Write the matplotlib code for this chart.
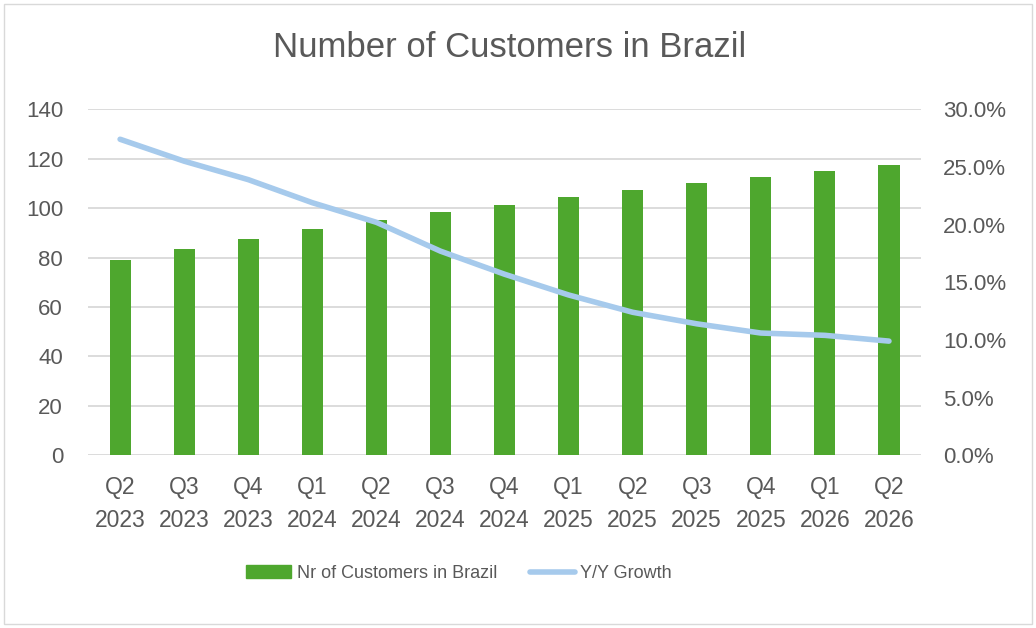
import matplotlib
matplotlib.use("Agg")
import matplotlib.pyplot as plt
import matplotlib.ticker as mticker
from matplotlib.patches import Rectangle
from matplotlib.lines import Line2D

plt.rcParams.update({
    "font.family": ["Liberation Sans", "DejaVu Sans"],
    "font.size": 16,
    "text.color": "#595959",
    "xtick.color": "#595959",
    "ytick.color": "#595959",
})

quarters = ["Q2\n2023", "Q3\n2023", "Q4\n2023", "Q1\n2024", "Q2\n2024", "Q3\n2024",
            "Q4\n2024", "Q1\n2025", "Q2\n2025", "Q3\n2025", "Q4\n2025", "Q1\n2026",
            "Q2\n2026"]
customers = [79.0, 83.6, 87.7, 91.7, 95.2, 98.6, 101.4, 104.4, 107.2, 110.1, 112.4, 115.2, 117.5]
growth = [27.4, 25.5, 23.9, 21.9, 20.2, 17.7, 15.7, 13.9, 12.4, 11.4, 10.6, 10.4, 9.9]

GREEN = "#4EA72E"
BLUE = "#A6CAEC"
GRID = "#D9D9D9"

fig = plt.figure(figsize=(10.36, 6.28), dpi=100)
ax = fig.add_axes([0.085, 0.275, 0.804, 0.551])
ax2 = ax.twinx()

x = range(len(quarters))
ax.bar(x, customers, width=0.33, color=GREEN, zorder=2)
ax2.plot(x, [g / 100 for g in growth], color=BLUE, lw=4, solid_capstyle="round",
         solid_joinstyle="round", zorder=3)

ax.set_xlim(-0.5, len(quarters) - 0.5)
ax.set_ylim(0, 140)
ax.yaxis.set_major_locator(mticker.MultipleLocator(20))
ax2.set_ylim(0, 0.30)
ax2.yaxis.set_major_locator(mticker.MultipleLocator(0.05))
ax2.yaxis.set_major_formatter(mticker.FuncFormatter(lambda v, _: f"{v*100:.1f}%"))

ax.set_xticks(list(x))
ax.set_xticklabels(quarters, linespacing=1.55, fontsize=16.5)
ax.grid(axis="y", color=GRID, lw=1.3, zorder=0)
ax.set_axisbelow(True)
for a in (ax, ax2):
    for s in a.spines.values():
        s.set_visible(False)
    a.tick_params(length=0, labelsize=16)
ax.tick_params(axis="x", labelsize=16.5)
ax.tick_params(axis="y", pad=18)
ax.tick_params(axis="x", pad=15)
ax2.tick_params(axis="y", pad=16)
ax2.patch.set_visible(False)

fig.text(0.492, 0.924, "Number of Customers in Brazil", ha="center", va="center",
         fontsize=25, color="#595959")

handles = [Rectangle((0, 0), 1, 1, color=GREEN),
           Line2D([0], [0], color=BLUE, lw=4, solid_capstyle="round")]
fig.legend(handles, ["Nr of Customers in Brazil", "Y/Y Growth"], loc="center",
           bbox_to_anchor=(0.443, 0.087), ncol=2, frameon=False, fontsize=13,
           handlelength=2.5, handletextpad=0.3, columnspacing=1.8)

fig.add_artist(Rectangle((0.004, 0.006), 0.992, 0.988, transform=fig.transFigure,
                         fill=False, edgecolor=GRID, lw=1.0))

fig.savefig("out.png", dpi=100)
